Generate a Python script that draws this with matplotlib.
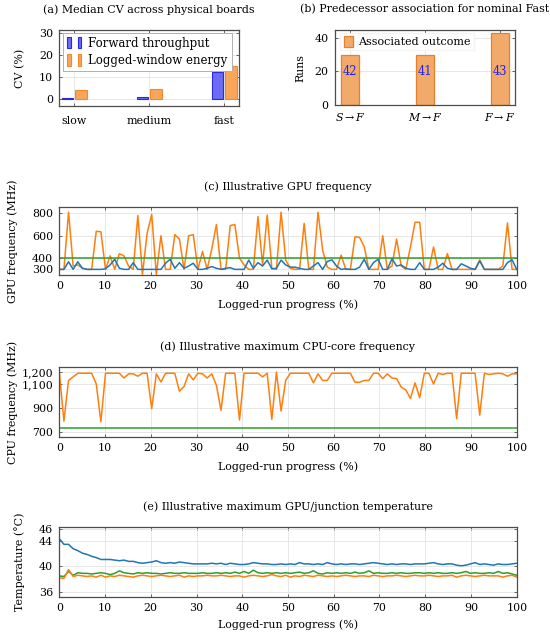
import matplotlib
matplotlib.use('Agg')
import matplotlib.pyplot as plt
import numpy as np
from matplotlib.patches import Rectangle
from matplotlib.legend_handler import HandlerTuple

plt.rcParams['font.family'] = ['DejaVu Serif']
plt.rcParams['mathtext.fontset'] = 'dejavuserif'
FS = 7.9
plt.rcParams['font.size'] = FS

# ---------------- data ----------------
cv_categories = ['slow', 'medium', 'fast']
cv_forward = [0.3, 0.8, 12.2]
cv_energy = [4.1, 4.4, 15.1]

pred_categories = [r'$S \rightarrow F$', r'$M \rightarrow F$', r'$F \rightarrow F$']
pred_runs = [30, 30, 43]
pred_labels = [42, 41, 43]

progress = np.linspace(0, 100, 100)

gpu_orange = [300, 300, 810, 330, 340, 310, 300, 300, 640, 635,
              300, 420, 300, 440, 420, 330, 300, 780, 255, 620,
              790, 255, 600, 300, 300, 610, 570, 300, 600, 610,
              300, 460, 300, 480, 700, 300, 300, 690, 700, 400,
              340, 300, 300, 770, 340, 785, 310, 300, 810, 383,
              310, 300, 300, 710, 300, 300, 810, 472, 320, 300,
              300, 428, 300, 300, 591, 585, 502, 300, 300, 300,
              600, 300, 330, 570, 330, 300, 500, 720, 720, 300,
              300, 500, 300, 300, 440, 300, 300, 300, 300, 300,
              300, 385, 300, 300, 300, 300, 330, 715, 300, 300]
gpu_blue = [300, 300, 368, 300, 368, 310, 300, 300, 300, 300,
            305, 340, 390, 310, 300, 300, 360, 300, 300, 300,
            300, 300, 300, 355, 390, 310, 360, 310, 330, 355,
            300, 300, 310, 325, 310, 300, 310, 315, 300, 300,
            300, 383, 310, 360, 330, 383, 305, 310, 383, 340,
            320, 320, 310, 300, 300, 330, 360, 300, 370, 385,
            330, 300, 305, 300, 300, 320, 390, 300, 360, 390,
            300, 300, 395, 330, 340, 310, 300, 300, 360, 300,
            300, 300, 320, 355, 310, 300, 300, 350, 330, 310,
            300, 375, 300, 300, 300, 300, 300, 360, 385, 300]
gpu_green_level = 400

cpu_orange = [1200, 790, 1130, 1160, 1190, 1190, 1190, 1190, 1100, 785,
              1190, 1190, 1190, 1190, 1150, 1185, 1185, 1165, 1190, 1190,
              895, 1185, 1117, 1190, 1190, 1190, 1040, 1080, 1185, 1135,
              1190, 1185, 1150, 1185, 1090, 880, 1190, 1190, 1190, 800,
              1190, 1190, 1190, 1190, 1160, 1190, 805, 1200, 875, 1130,
              1190, 1190, 1190, 1190, 1190, 1110, 1185, 1130, 1130, 1190,
              1190, 1190, 1190, 1190, 1115, 1115, 1130, 1130, 1190, 1190,
              1145, 1185, 1150, 1145, 1075, 1050, 980, 1110, 985, 1190,
              1190, 1100, 1190, 1180, 1190, 1190, 810, 1190, 1190, 1190,
              1190, 840, 1190, 1180, 1185, 1190, 1185, 1165, 1185, 1185]
cpu_green_level = 730

temp_blue = [44.4, 43.5, 43.5, 42.8, 42.5, 42.1, 41.9, 41.6, 41.4, 41.1,
             41.1, 41.1, 41.0, 40.9, 41.0, 40.8, 40.8, 40.6, 40.5, 40.6,
             40.7, 40.9, 40.6, 40.5, 40.6, 40.5, 40.7, 40.6, 40.5, 40.4,
             40.4, 40.4, 40.4, 40.5, 40.4, 40.5, 40.3, 40.5, 40.4, 40.3,
             40.3, 40.4, 40.6, 40.5, 40.4, 40.4, 40.3, 40.3, 40.4, 40.3,
             40.4, 40.3, 40.6, 40.4, 40.4, 40.3, 40.4, 40.3, 40.6, 40.4,
             40.3, 40.4, 40.3, 40.4, 40.4, 40.3, 40.4, 40.5, 40.6, 40.5,
             40.4, 40.3, 40.4, 40.3, 40.4, 40.4, 40.3, 40.4, 40.4, 40.4,
             40.5, 40.6, 40.4, 40.3, 40.4, 40.4, 40.2, 40.1, 40.2, 40.4,
             40.6, 40.3, 40.4, 40.3, 40.2, 40.4, 40.3, 40.3, 40.4, 40.5]
temp_green = [38.5, 38.4, 39.2, 38.6, 39.0, 38.9, 38.9, 38.8, 38.9, 39.0,
              38.9, 38.7, 38.9, 39.3, 39.0, 38.9, 38.8, 39.0, 38.9, 39.0,
              38.9, 38.9, 38.8, 38.9, 39.0, 38.9, 38.9, 39.0, 38.9, 38.9,
              38.9, 39.0, 38.9, 38.9, 39.0, 38.9, 39.0, 38.9, 39.1, 38.9,
              39.2, 38.9, 39.4, 39.0, 38.9, 39.0, 38.9, 39.0, 38.9, 39.0,
              38.9, 39.0, 39.1, 38.9, 39.0, 39.3, 38.9, 38.8, 39.0, 38.9,
              39.0, 38.9, 39.0, 38.9, 39.1, 38.9, 39.0, 39.3, 38.9, 39.0,
              38.9, 38.9, 39.0, 38.9, 39.0, 38.9, 38.9, 39.0, 39.0, 38.9,
              39.0, 38.9, 39.0, 38.9, 38.9, 39.0, 38.9, 39.0, 39.2, 38.9,
              39.0, 38.9, 38.9, 39.0, 38.9, 39.2, 38.9, 39.0, 38.8, 38.6]
temp_orange = [38.2, 38.1, 39.5, 38.4, 38.6, 38.5, 38.4, 38.5, 38.3, 38.6,
               38.3, 38.5, 38.4, 38.6, 38.5, 38.4, 38.3, 38.5, 38.6, 38.5,
               38.4, 38.5, 38.6, 38.5, 38.4, 38.5, 38.6, 38.3, 38.5, 38.4,
               38.5, 38.5, 38.6, 38.5, 38.5, 38.6, 38.5, 38.4, 38.5, 38.5,
               38.3, 38.5, 38.6, 38.5, 38.4, 38.5, 38.7, 38.5, 38.4, 38.6,
               38.3, 38.5, 38.4, 38.6, 38.5, 38.4, 38.6, 38.5, 38.4, 38.5,
               38.4, 38.5, 38.6, 38.5, 38.4, 38.5, 38.5, 38.4, 38.6, 38.5,
               38.4, 38.5, 38.5, 38.6, 38.5, 38.4, 38.5, 38.6, 38.5, 38.5,
               38.6, 38.5, 38.4, 38.5, 38.5, 38.6, 38.3, 38.5, 38.6, 38.5,
               38.4, 38.5, 38.6, 38.5, 38.5, 38.5, 38.3, 38.5, 38.6, 38.3]

# ---------------- styling ----------------
C_BLUE = '#1f77b4'
C_ORANGE = '#ff7f0e'
C_GREEN = '#2ca02c'
SPINE = '#4d4d4d'
GRID = '#e3e3e3'
TITLE_PAD = 12.5

W, H = 550.0, 637.0


def rect(x0, x1, y0, y1):
    return [x0 / W, 1 - y1 / H, (x1 - x0) / W, (y1 - y0) / H]


def style(ax):
    for s in ax.spines.values():
        s.set_color(SPINE)
        s.set_linewidth(0.9)
    ax.tick_params(direction='in', length=2.5, width=0.6, color=SPINE,
                   top=True, right=True, pad=4.5, labelsize=FS)
    ax.grid(True, color=GRID, lw=0.6)
    ax.set_axisbelow(True)


fig = plt.figure(figsize=(5.5, 6.37), dpi=100)

# ---------- (a) ----------
axa = fig.add_axes(rect(59.3, 239.3, 30, 106))
style(axa)
xa = np.arange(len(cv_categories))
bw = 0.155
axa.bar(xa - 0.093, cv_forward, bw, color='#6b6bf5', edgecolor='#2b2bdc', lw=0.8,
        label='Forward throughput')
axa.bar(xa + 0.093, cv_energy, bw, color='#f9a55a', edgecolor='#f08a2a', lw=0.8,
        label='Logged-window energy')
axa.set_xlim(-0.2, 2.2)
axa.set_ylim(-3.2, 31.5)
axa.set_xticks(xa, cv_categories)
axa.set_yticks([0, 10, 20, 30])
axa.tick_params(axis='x', pad=7)
axa.set_ylabel('CV (%)')
axa.yaxis.set_label_coords(-0.19, 0.5)
axa.set_title('(a) Median CV across physical boards', fontsize=FS, pad=TITLE_PAD)
hb = (Rectangle((0, 0), 1, 1, fc='#6b6bf5', ec='#2b2bdc', lw=0.8),
      Rectangle((0, 0), 1, 1, fc='#6b6bf5', ec='#2b2bdc', lw=0.8))
ho = (Rectangle((0, 0), 1, 1, fc='#f9a55a', ec='#f08a2a', lw=0.8),
      Rectangle((0, 0), 1, 1, fc='#f9a55a', ec='#f08a2a', lw=0.8))
lega = axa.legend([hb, ho], ['Forward throughput', 'Logged-window energy'],
                  handler_map={tuple: HandlerTuple(ndivide=None, pad=0.6)},
                  loc='upper left', bbox_to_anchor=(0.02, 0.965), borderaxespad=0,
                  handlelength=1.2, handleheight=1.1, handletextpad=0.6,
                  labelspacing=0.35, borderpad=0.35, fancybox=False,
                  edgecolor='#b0b0b0', framealpha=1, fontsize=8.5)
lega.get_frame().set_linewidth(0.7)

# ---------- (b) ----------
axb = fig.add_axes(rect(335, 515, 30, 105))
style(axb)
xb = np.arange(len(pred_categories))
axb.bar(xb, pred_runs, 0.253, color='#f2aa6b', edgecolor='#e5812e', lw=0.9,
        label='Associated outcome')
for xi, lab in zip(xb, pred_labels):
    axb.text(xi, 20, str(lab), color='#2323e6', ha='center', va='center', fontsize=FS + 0.4)
axb.set_xlim(-0.2, 2.2)
axb.set_ylim(0, 44.6)
axb.set_xticks(xb, pred_categories)
axb.set_yticks([0, 20, 40])
axb.tick_params(axis='x', pad=4.5)
axb.set_ylabel('Runs')
axb.yaxis.set_label_coords(-0.167, 0.5)
axb.set_title('(b) Predecessor association for nominal Fast', fontsize=FS, pad=TITLE_PAD)
legb = axb.legend(loc='upper left', bbox_to_anchor=(0.03, 0.965), borderaxespad=0,
                  handlelength=0.8, handleheight=1.1, handletextpad=0.5,
                  borderpad=0.3, fancybox=False, edgecolor='#f4f4f4',
                  framealpha=1, fontsize=8.0)

# ---------- (c) ----------
axc = fig.add_axes(rect(59.3, 516.7, 207, 275))
style(axc)
axc.plot(progress, gpu_orange, color=C_ORANGE, lw=1.1)
axc.plot(progress, gpu_blue, color=C_BLUE, lw=1.1)
axc.axhline(gpu_green_level, color=C_GREEN, lw=1.1)
axc.set_xlim(0, 100)
axc.set_ylim(250, 856)
axc.set_yticks([300, 400, 600, 800])
axc.set_xticks(range(0, 101, 10))
axc.set_ylabel('GPU frequency (MHz)')
axc.yaxis.set_label_coords(-0.09, 0.5)
axc.set_xlabel('Logged-run progress (%)', labelpad=6)
axc.set_title('(c) Illustrative GPU frequency', fontsize=FS, pad=TITLE_PAD)

# ---------- (d) ----------
axd = fig.add_axes(rect(59.3, 516.7, 367, 437))
style(axd)
axd.plot(progress, cpu_orange, color=C_ORANGE, lw=1.1)
axd.axhline(cpu_green_level, color=C_GREEN, lw=1.1)
axd.set_xlim(0, 100)
axd.set_ylim(658, 1242)
axd.set_yticks([700, 900, 1100, 1200])
axd.set_yticklabels(['700', '900', '1,100', '1,200'])
axd.set_xticks(range(0, 101, 10))
axd.set_ylabel('CPU frequency (MHz)')
axd.yaxis.set_label_coords(-0.09, 0.5)
axd.set_xlabel('Logged-run progress (%)', labelpad=6)
axd.set_title('(d) Illustrative maximum CPU-core frequency', fontsize=FS, pad=TITLE_PAD)

# ---------- (e) ----------
axe = fig.add_axes(rect(59.3, 516.7, 527.3, 596.7))
style(axe)
axe.plot(progress, temp_blue, color=C_BLUE, lw=1.1)
axe.plot(progress, temp_green, color=C_GREEN, lw=1.1)
axe.plot(progress, temp_orange, color=C_ORANGE, lw=1.1)
axe.set_xlim(0, 100)
axe.set_ylim(35.2, 46.2)
axe.set_yticks([36, 40, 44, 46])
axe.set_xticks(range(0, 101, 10))
axe.set_ylabel('Temperature (°C)')
axe.yaxis.set_label_coords(-0.075, 0.5)
axe.set_xlabel('Logged-run progress (%)', labelpad=5)
axe.set_title('(e) Illustrative maximum GPU/junction temperature', fontsize=FS, pad=TITLE_PAD)

fig.savefig('out.png', dpi=100)
